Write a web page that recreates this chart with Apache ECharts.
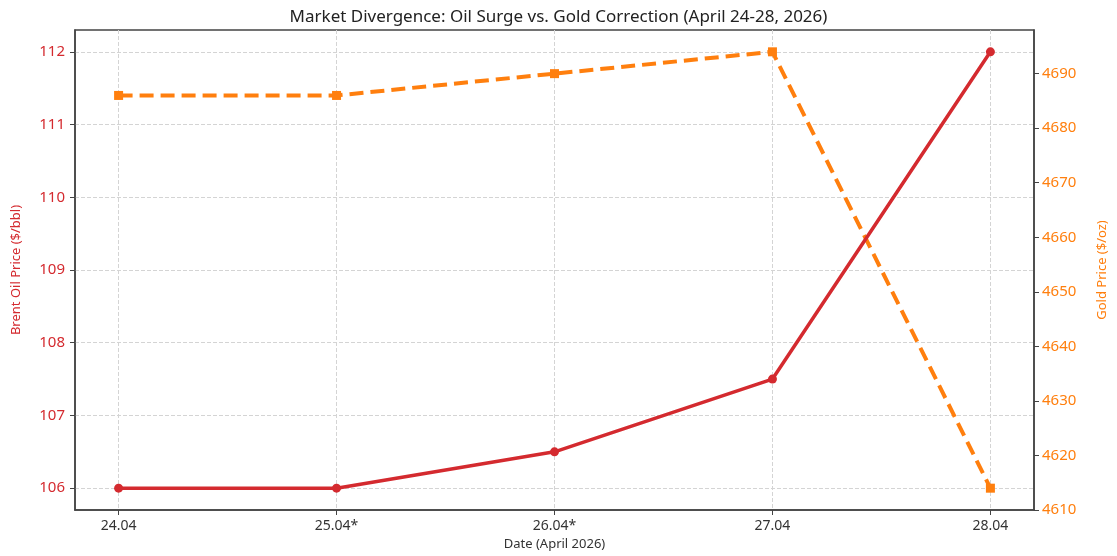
<!DOCTYPE html>
<html>
<head>
<meta charset="utf-8">
<script src="https://cdn.jsdelivr.net/npm/echarts@6/dist/echarts.min.js"></script>
<style>
  html, body { margin: 0; padding: 0; background: #fff; }
  #chart { width: 1117px; height: 556px; }
</style>
</head>
<body>
<div id="chart"></div>
<script>
// data
const dates = ['24.04', '25.04*', '26.04*', '27.04', '28.04']
const oilPrice = [106, 106, 106.5, 107.5, 112]
const goldPrice = [4686, 4686, 4690, 4694, 4614]
const oilTicks = [106, 107, 108, 109, 110, 111, 112]
const goldTicks = [4610, 4620, 4630, 4640, 4650, 4660, 4670, 4680, 4690]

const RED = '#d42a2f'
const ORANGE = '#ff7f0e'
const FONT = 'Noto Sans'

const chart = echarts.init(document.getElementById('chart'))
const xIdx = dates.map((d, i) => i)

const option = {
  animation: false,
  textStyle: { fontFamily: FONT },
  title: {
    text: 'Market Divergence: Oil Surge vs. Gold Correction (April 24-28, 2026)',
    left: 'center',
    top: 4,
    textStyle: { fontSize: 17, fontWeight: 'normal', color: '#222', fontFamily: FONT }
  },
  grid: {
    left: 75, right: 80, top: 30, bottom: 46,
    show: true, borderColor: '#444', borderWidth: 1.5
  },
  xAxis: {
    type: 'value',
    min: -0.2,
    max: 4.2,
    name: 'Date (April 2026)',
    nameLocation: 'middle',
    nameGap: 28,
    nameTextStyle: { fontSize: 13, color: '#333' },
    axisLine: { show: true, onZero: false, lineStyle: { color: '#444', width: 1.5 } },
    axisTick: { show: true, length: 5, customValues: xIdx, lineStyle: { color: '#444' } },
    axisLabel: {
      customValues: xIdx,
      fontSize: 14, color: '#333', margin: 9,
      formatter: v => dates[Math.round(v)]
    },
    splitLine: { show: true, lineStyle: { type: 'dashed', color: '#d4d4d4' } }
  },
  yAxis: [
    {
      type: 'value',
      min: 105.7,
      max: 112.3,
      name: 'Brent Oil Price ($/bbl)',
      nameLocation: 'middle',
      nameGap: 52,
      nameTextStyle: { fontSize: 13, color: RED },
      axisLine: { show: true, onZero: false, lineStyle: { color: '#444', width: 1.5 } },
      axisTick: { show: true, length: 5, customValues: oilTicks, lineStyle: { color: '#444' } },
      axisLabel: { customValues: oilTicks, fontSize: 15, color: RED, margin: 10 },
      splitLine: { show: true, lineStyle: { type: 'dashed', color: '#d4d4d4' } }
    },
    {
      type: 'value',
      min: 4610,
      max: 4698,
      position: 'right',
      name: 'Gold Price ($/oz)',
      nameLocation: 'middle',
      nameGap: 62,
      nameTextStyle: { fontSize: 13, color: ORANGE },
      axisLine: { show: true, onZero: false, lineStyle: { color: '#444', width: 1.5 } },
      axisTick: { show: true, length: 5, customValues: goldTicks, lineStyle: { color: '#444' } },
      axisLabel: { customValues: goldTicks, fontSize: 15, color: ORANGE, margin: 8, formatter: v => String(v) },
      splitLine: { show: false }
    }
  ],
  series: [
    {
      name: 'Brent Oil',
      type: 'line',
      yAxisIndex: 0,
      data: oilPrice.map((v, i) => [i, v]),
      symbol: 'circle',
      symbolSize: 9,
      lineStyle: { color: RED, width: 3.5 },
      itemStyle: { color: RED },
      z: 3
    },
    {
      name: 'Gold',
      type: 'line',
      yAxisIndex: 1,
      data: goldPrice.map((v, i) => [i, v]),
      symbol: 'rect',
      symbolSize: 9,
      lineStyle: { color: ORANGE, width: 4, type: [14, 7] },
      itemStyle: { color: ORANGE },
      z: 2
    }
  ]
}
chart.setOption(option)
</script>
</body>
</html>
